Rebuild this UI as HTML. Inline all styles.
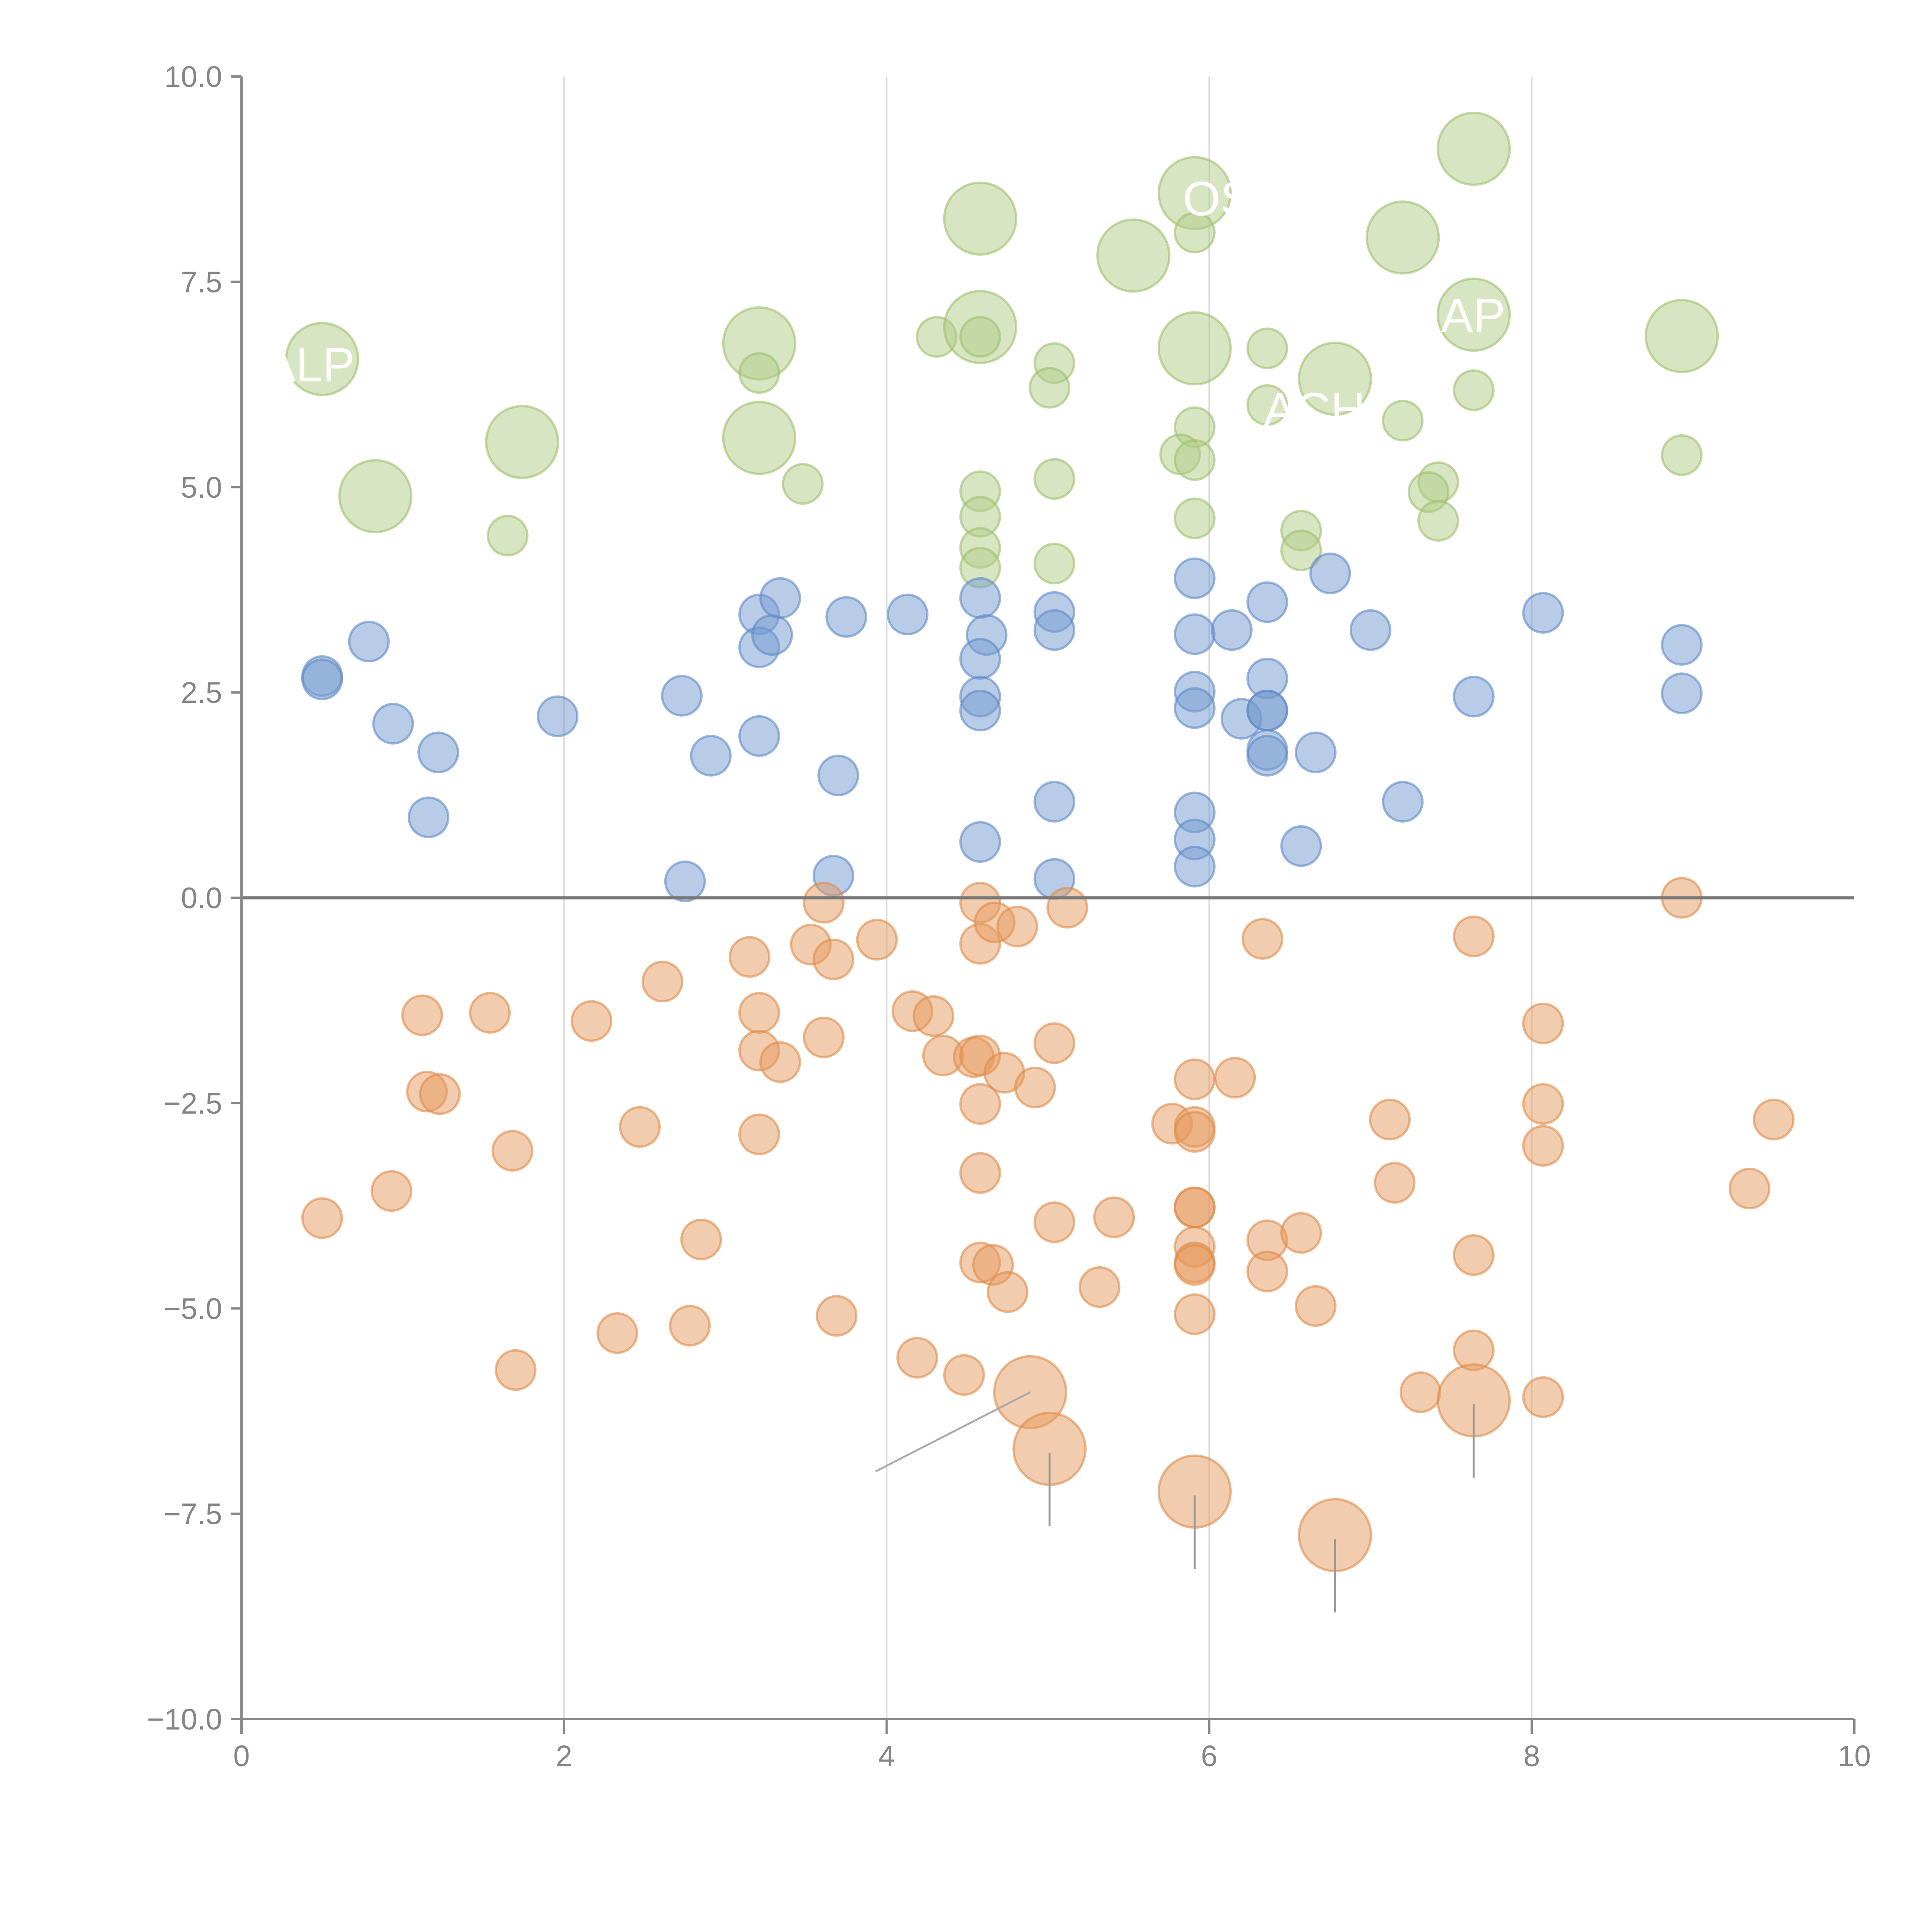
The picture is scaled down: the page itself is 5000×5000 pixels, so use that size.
<!DOCTYPE html>
<html><head><meta charset="utf-8"><style>
html,body{margin:0;padding:0;background:#fff;}
svg{display:block;font-family:"Liberation Sans",sans-serif;}
</style></head><body>
<svg id="chart" width="5000" height="5000" viewBox="0 0 5000 5000" xmlns="http://www.w3.org/2000/svg"></svg>
<script>
// x-axis ticks and y-axis ticks
const xTicks = [0, 2, 4, 6, 8, 10];
const yTicks = [-10, -7.5, -5, -2.5, 0, 2.5, 5, 7.5, 10];
const yTickLabels = ["\u221210.0","\u22127.5","\u22125.0","\u22122.5","0.0","2.5","5.0","7.5","10.0"];

// green series: x, y, big(1)/small(0)
const greenX = [0.50,0.83,1.74,1.65,3.21,3.21,3.21,3.48,4.31,4.58,4.58,4.58,4.58,4.58,4.58,4.58,5.04,5.01,5.04,5.04,5.53,5.91,5.91,5.91,5.91,5.82,5.91,5.91,6.36,6.36,6.78,6.57,6.57,7.20,7.20,7.64,7.64,7.64,7.42,7.36,7.42,8.93,8.93];
const greenY = [6.56,4.89,5.55,4.41,6.75,6.39,5.60,5.04,6.83,8.27,6.95,6.83,4.95,4.64,4.26,4.02,6.51,6.21,5.10,4.07,7.82,8.58,8.10,6.69,5.73,5.40,5.33,4.62,6.69,6.00,6.32,4.47,4.23,8.04,5.81,9.12,7.10,6.18,5.06,4.94,4.59,6.84,5.39];
const greenBig = [1,1,1,0,1,0,1,0,0,1,1,0,0,0,0,0,0,0,0,0,1,1,0,1,0,0,0,0,0,0,1,0,0,1,0,1,1,0,0,0,0,1,0];

// blue series
const blueX = [0.50,0.50,0.79,0.94,1.22,1.16,1.96,2.73,2.75,2.91,3.21,3.21,3.29,3.34,3.21,3.75,3.70,3.67,4.13,4.58,4.62,4.58,4.58,4.58,4.58,5.04,5.04,5.04,5.04,5.91,5.91,5.91,5.91,5.91,5.91,5.91,6.14,6.20,6.36,6.36,6.36,6.36,6.36,6.36,6.66,6.57,6.75,7.00,7.20,7.64,8.07,8.93,8.93];
const blueY = [2.70,2.66,3.12,2.12,1.77,0.98,2.21,2.46,0.20,1.73,3.45,3.05,3.20,3.65,1.97,3.42,1.49,0.27,3.45,3.65,3.20,2.91,2.45,2.28,0.68,3.48,3.26,1.17,0.23,3.89,3.21,2.51,2.31,1.04,0.71,0.38,3.26,2.18,3.60,2.67,2.28,2.28,1.80,1.73,1.77,0.63,3.95,3.26,1.17,2.45,3.47,3.08,2.49];

// orange series
const orangeX = [0.50,0.93,1.12,1.15,1.23,1.54,1.68,1.70,2.17,2.33,2.47,2.61,2.78,2.85,3.15,3.21,3.21,3.21,3.34,3.53,3.61,3.67,3.61,3.69,3.94,4.16,4.29,4.35,4.19,4.48,4.54,4.58,4.58,4.67,4.81,4.58,4.73,4.58,4.92,4.58,4.58,4.66,4.75,5.12,5.04,5.04,5.32,5.41,5.77,5.91,6.16,5.91,5.91,5.91,5.91,5.91,5.91,5.91,5.91,6.33,6.36,6.36,6.57,6.66,7.12,7.15,7.31,7.64,7.64,7.64,8.07,8.07,8.07,8.07,8.93,9.35,9.50,4.89,5.01,5.91,6.78,7.64];
const orangeY = [-3.90,-3.57,-1.43,-2.36,-2.39,-1.40,-3.08,-5.75,-1.50,-5.30,-2.79,-1.02,-5.21,-4.16,-0.72,-1.40,-1.86,-2.88,-2.00,-0.57,-0.06,-0.75,-1.70,-5.09,-0.51,-1.38,-1.44,-1.92,-5.60,-5.81,-1.94,-0.06,-0.56,-0.30,-0.35,-1.92,-2.13,-2.51,-2.31,-3.35,-4.44,-4.47,-4.80,-0.12,-1.77,-3.95,-4.74,-3.89,-2.75,-2.21,-2.19,-2.79,-2.85,-3.77,-3.77,-4.25,-4.44,-4.47,-5.07,-0.50,-4.17,-4.55,-4.08,-4.97,-2.70,-3.47,-6.02,-0.47,-4.35,-5.51,-1.53,-2.51,-3.02,-6.08,0.00,-3.54,-2.70,-6.02,-6.71,-7.23,-7.76,-6.12];
const orangeBig = [0,0,0,0,0,0,0,0,0,0,0,0,0,0,0,0,0,0,0,0,0,0,0,0,0,0,0,0,0,0,0,0,0,0,0,0,0,0,0,0,0,0,0,0,0,0,0,0,0,0,0,0,0,0,0,0,0,0,0,0,0,0,0,0,0,0,0,0,0,0,0,0,0,0,0,0,0,1,1,1,1,1];

const NS = "http://www.w3.org/2000/svg";
const svg = document.getElementById("chart");
const X0 = 625, X1 = 4799, Y0 = 4449, Y1 = 198;
function sx(v){ return X0 + (v - 0) / 10 * (X1 - X0); }
function sy(v){ return Y0 - (v + 10) / 20 * (Y0 - Y1); }
function mk(tag, attrs){ const e = document.createElementNS(NS, tag); for (const k in attrs) e.setAttribute(k, attrs[k]); svg.appendChild(e); return e; }

// grid
for (const t of xTicks) {
  if (t === 0 || t === 10) continue;
  const g = mk("line", {x1: sx(t), x2: sx(t), y1: Y1, y2: Y0, stroke: "#dcdcdc", "stroke-width": 4});
  
  
}

function drawSeries(xs, ys, bigs, fill, stroke, name){
  for (let i = 0; i < xs.length; i++) {
    const r = bigs && bigs[i] ? 93 : 51;
    const c = mk("circle", {cx: sx(xs[i]), cy: sy(ys[i]), r: r, fill: fill, "fill-opacity": 0.5, stroke: stroke, "stroke-opacity": 0.6, "stroke-width": 6});
    
    
  }
}
drawSeries(greenX, greenY, greenBig, "#b0cc85", "#9dc06a", "green-bubble");
drawSeries(blueX, blueY, null, "#7399d0", "#5d88c8", "blue-bubble");
drawSeries(orangeX, orangeY, orangeBig, "#e59a5e", "#de8a48", "orange-bubble");

// leader lines for large orange bubbles
for (let i = 0; i < orangeX.length; i++) {
  if (!orangeBig[i] || i === orangeX.length - 5) continue;
  const ln = mk("line", {x1: sx(orangeX[i]), x2: sx(orangeX[i]), y1: sy(orangeY[i]) + 10, y2: sy(orangeY[i]) + 200, stroke: "#999", "stroke-width": 5});
  
  
}
const li = orangeX.length - 5;
const dl = mk("line", {x1: sx(orangeX[li]), y1: sy(orangeY[li]), x2: sx(orangeX[li]) - 400, y2: sy(orangeY[li]) + 205, stroke: "#aaa", "stroke-width": 5});



// white labels on green bubbles
const labels = [["ALP", 0.40, 6.50], ["OS", 6.10, 8.52], ["AP", 7.70, 7.10], ["ACH", 6.60, 5.95]];
for (const L of labels) {
  const t = mk("text", {x: sx(L[1]) - 110, y: sy(L[2]) + 45, fill: "#fff", "font-size": 125});
  t.textContent = L[0];
  
  
}

// zero line
const z = mk("line", {x1: X0, x2: X1, y1: sy(0), y2: sy(0), stroke: "#777", "stroke-width": 8});



// axes
const ya = mk("line", {x1: X0, x2: X0, y1: Y1, y2: Y0 + 38, stroke: "#888", "stroke-width": 6});


const xa = mk("line", {x1: X0 - 25, x2: X1, y1: Y0, y2: Y0, stroke: "#888", "stroke-width": 6});



for (let i = 0; i < yTicks.length; i++) {
  const y = sy(yTicks[i]);
  const tk = mk("line", {x1: X0 - 28, x2: X0, y1: y, y2: y, stroke: "#888", "stroke-width": 6});
  
  
  const tl = mk("text", {x: X0 - 50, y: y + 27, fill: "#858585", "font-size": 77, "text-anchor": "end"});
  tl.textContent = yTickLabels[i];
  
  
}
for (const t of xTicks) {
  const x = sx(t);
  const tk = mk("line", {x1: x, x2: x, y1: Y0, y2: Y0 + 38, stroke: "#888", "stroke-width": 6});
  
  
  const tl = mk("text", {x: x, y: Y0 + 122, fill: "#858585", "font-size": 77, "text-anchor": "middle"});
  tl.textContent = String(t);
  
  
}
</script>
</body></html>
